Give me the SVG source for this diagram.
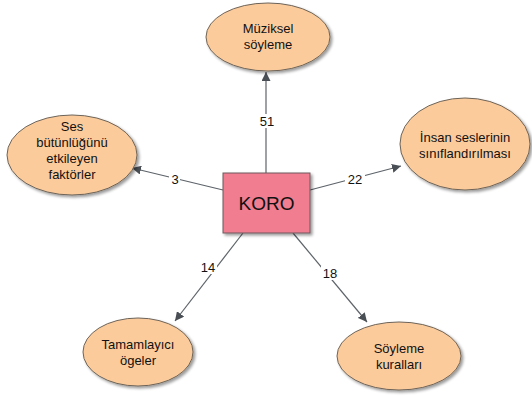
<svg xmlns="http://www.w3.org/2000/svg" width="532" height="396" viewBox="0 0 532 396">
<defs>
<filter id="sh" x="-20%" y="-20%" width="150%" height="150%">
<feGaussianBlur in="SourceAlpha" stdDeviation="1.5"/>
<feOffset dx="2" dy="2" result="o"/>
<feComponentTransfer><feFuncA type="linear" slope="0.4"/></feComponentTransfer>
<feMerge><feMergeNode/><feMergeNode in="SourceGraphic"/></feMerge>
</filter>
<marker id="ar" viewBox="0 0 10 10" refX="10" refY="5" markerWidth="9" markerHeight="9" markerUnits="userSpaceOnUse" orient="auto">
<path d="M0,0 L10,5 L0,10 z" fill="#4a4f55"/>
</marker>
</defs>
<style>
.n{fill:#FCCB9C;stroke:#6e6458;stroke-width:1;filter:url(#sh)}
.t{font-family:"Liberation Sans",Arial,sans-serif;font-size:13px;fill:#111;text-anchor:middle}
.c{stroke:#5d6369;stroke-width:1.2;fill:none;marker-end:url(#ar)}
.l{font-family:"Liberation Sans",Arial,sans-serif;font-size:13px;fill:#111;text-anchor:middle}
.lb{fill:#fff}
</style>
<rect width="532" height="396" fill="#fff"/>
<g id="connectors">
<line class="c" x1="266" y1="173" x2="266" y2="72"/>
<line class="c" x1="223" y1="190" x2="132" y2="168"/>
<line class="c" x1="310" y1="190" x2="401" y2="166"/>
<line class="c" x1="243" y1="233" x2="175" y2="321"/>
<line class="c" x1="293" y1="233" x2="367" y2="322"/>
<rect class="lb" x="258" y="114" width="18" height="14"/>
<text class="l" x="267" y="126">51</text>
<rect class="lb" x="169" y="172" width="11" height="14"/>
<text class="l" x="175" y="184">3</text>
<rect class="lb" x="345" y="172" width="20" height="14"/>
<text class="l" x="355" y="184">22</text>
<rect class="lb" x="199" y="260" width="18" height="14"/>
<text class="l" x="208" y="272">14</text>
<rect class="lb" x="321" y="266" width="18" height="14"/>
<text class="l" x="330" y="278">18</text>
</g>
<g id="muziksel">
<ellipse class="n" cx="268" cy="37" rx="62" ry="34"/>
<text class="t" x="268" y="33">Müziksel</text>
<text class="t" x="268" y="49">söyleme</text>
</g>
<g id="ses">
<ellipse class="n" cx="72" cy="155" rx="65" ry="40"/>
<text class="t" x="72" y="131">Ses</text>
<text class="t" x="72" y="147">bütünlüğünü</text>
<text class="t" x="72" y="163">etkileyen</text>
<text class="t" x="72" y="179">faktörler</text>
</g>
<g id="insan">
<ellipse class="n" cx="465" cy="144" rx="65" ry="46"/>
<text class="t" x="465" y="142">İnsan seslerinin</text>
<text class="t" x="465" y="158">sınıflandırılması</text>
</g>
<g id="koro">
<rect x="223" y="173" width="87" height="60" fill="#F07D90" stroke="#6e5a5e" stroke-width="1" filter="url(#sh)"/>
<text x="266.5" y="210" font-family="'Liberation Sans',Arial,sans-serif" font-size="19" fill="#111" text-anchor="middle">KORO</text>
</g>
<g id="tamamlayici">
<ellipse class="n" cx="138" cy="352" rx="55" ry="34"/>
<text class="t" x="138" y="349">Tamamlayıcı</text>
<text class="t" x="138" y="365">ögeler</text>
</g>
<g id="soyleme">
<ellipse class="n" cx="399" cy="356" rx="62" ry="34"/>
<text class="t" x="399" y="353">Söyleme</text>
<text class="t" x="399" y="369">kuralları</text>
</g>
</svg>
